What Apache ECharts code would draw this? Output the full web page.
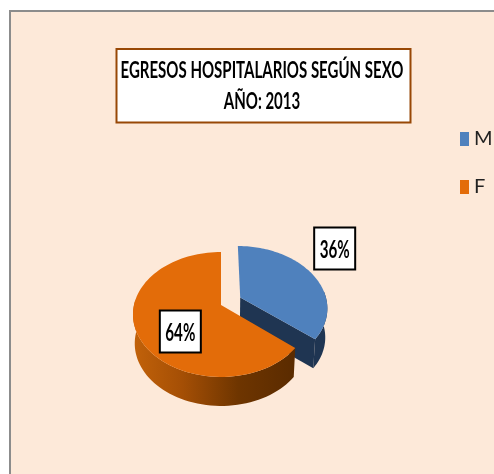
<!DOCTYPE html>
<html><head><meta charset="utf-8">
<style>html,body{margin:0;padding:0;background:#fff}#c{width:494px;height:474px;filter:blur(0.5px)}</style>
<script src="https://cdn.jsdelivr.net/npm/echarts@6/dist/echarts.min.js"></script>
</head><body><div id="c"></div>
<script>
const titleLines = ['EGRESOS HOSPITALARIOS SEGÚN SEXO', 'AÑO: 2013'];
const categories = ['M', 'F'];
const values = [36, 64];
const topColors = ['#4F81BD', '#E36C09'];

const FONT = 'Lato,"Liberation Sans",sans-serif';
const total = values.reduce((a, b) => a + b, 0);
const CX = 221, CY = 305, R = 87, TILT = 61, PERSP = 0.152, DEPTH = 29, BOTTOM_SCALE = 0.98;
const EXPLODE = [0.235, 0];
const SLICE_SHIFT = [[1, -1.5], [0, 0]];
const LABEL_CENTER_RADIUS = [1.22, 0.5], LABEL_SHIFT = [[9, -22], [0, 13]];
const LABEL_BOX = [41, 42];

const measure = document.createElement('canvas').getContext('2d');
function narrow(text, font, width) {
  measure.font = font;
  return width / measure.measureText(text).width;
}
function project(u, v) {
  const s = 1 / (1 - PERSP * v);
  return [CX + R * u * s, CY + TILT * v * s];
}
function lower(p) { return [CX + (p[0] - CX) * BOTTOM_SCALE, p[1] + DEPTH]; }

function sliceGeometry(idx) {
  let before = 0;
  for (let i = 0; i < idx; i++) before += values[i];
  const a0 = before / total * Math.PI * 2;
  const a1 = (before + values[idx]) / total * Math.PI * 2;
  const mid = (a0 + a1) / 2;
  const ou = EXPLODE[idx] * Math.sin(mid), ov = -EXPLODE[idx] * Math.cos(mid);
  const arc = [], front = [];
  const n = 90;
  for (let i = 0; i <= n; i++) {
    const a = a0 + (a1 - a0) * i / n;
    const p = project(ou + Math.sin(a), ov - Math.cos(a));
    arc.push(p);
    if (-Math.cos(a) >= -0.12) front.push(p);
  }
  return { arc, front, apex: project(ou, ov), mid, ou, ov };
}

function renderSlice(params, api) {
  const idx = params.seriesIndex;
  const g = sliceGeometry(idx);
  const children = [];
  const wall = g.front.concat(g.front.map(lower).reverse());
  const fill = idx === 0 ? '#1F3552' : new echarts.graphic.LinearGradient(0, 0, 1, 0, [
    { offset: 0, color: '#C2620A' },
    { offset: 0.3, color: '#A54F05' },
    { offset: 0.65, color: '#6E3500' },
    { offset: 1, color: '#5A2B00' }
  ]);
  children.push({ type: 'polygon', shape: { points: wall }, style: { fill: fill } });
  if (idx === 0) {
    const end = g.arc[g.arc.length - 1];
    children.push({ type: 'polygon',
      shape: { points: [g.apex, end, lower(end), lower(g.apex)] },
      style: { fill: '#1F3552' } });
  }
  children.push({ type: 'polygon', shape: { points: [g.apex].concat(g.arc) },
    style: { fill: topColors[idx] } });
  const lr = LABEL_CENTER_RADIUS[idx];
  const lp = project(g.ou + lr * Math.sin(g.mid), g.ov - lr * Math.cos(g.mid));
  const lx = lp[0] + LABEL_SHIFT[idx][0], ly = lp[1] + LABEL_SHIFT[idx][1];
  const labelText = Math.round(api.value(0) / total * 100) + '%';
  const labelFont = 'bold 24px ' + FONT;
  return { type: 'group', children: [
    { type: 'group', x: SLICE_SHIFT[idx][0], y: SLICE_SHIFT[idx][1], children },
    { type: 'rect', z2: 50,
      shape: { x: lx - LABEL_BOX[0] / 2, y: ly - LABEL_BOX[1] / 2, width: LABEL_BOX[0], height: LABEL_BOX[1] },
      style: { fill: '#fff', stroke: '#000', lineWidth: 2 } },
    { type: 'text', z2: 51, x: lx, y: ly + 2, scaleX: narrow(labelText, labelFont, 30),
      style: { x: 0, y: 0, text: labelText, align: 'center', verticalAlign: 'middle', font: labelFont, fill: '#000' } }
  ] };
}

const titleFont = 'bold 22px ' + FONT;
const titleScale = narrow(titleLines[0], titleFont, 283);

const chart = echarts.init(document.getElementById('c'), null, { renderer: 'canvas' });
chart.setOption({
  animation: false,
  backgroundColor: '#fff',
  graphic: [
    { type: 'rect', z: 0, silent: true,
      shape: { x: 10, y: 11, width: 500, height: 480 },
      style: { fill: '#FDE9D9', stroke: '#8C8C8C', lineWidth: 2 } },
    { type: 'rect', z: 10, silent: true,
      shape: { x: 116.5, y: 49, width: 294, height: 73.5 },
      style: { fill: '#fff', stroke: '#984806', lineWidth: 2 } },
    { type: 'text', z: 11, x: 262, y: 70.5, scaleX: titleScale, silent: true,
      style: { x: 0, y: 0, text: titleLines[0], align: 'center', verticalAlign: 'middle', font: titleFont, fill: '#000' } },
    { type: 'text', z: 11, x: 262, y: 102, scaleX: titleScale, silent: true,
      style: { x: 0, y: 0, text: titleLines[1], align: 'center', verticalAlign: 'middle', font: titleFont, fill: '#000' } }
  ],
  legend: {
    data: categories, orient: 'vertical', left: 460, top: 129,
    icon: 'rect', itemWidth: 9, itemHeight: 14, itemGap: 28, padding: 0,
    textStyle: { fontFamily: 'Lato', fontSize: 20, color: '#222' },
    selectedMode: false
  },
  series: categories.map((name, i) => ({
    type: 'custom', name, coordinateSystem: 'none', z: 2 + i,
    itemStyle: { color: topColors[i] },
    renderItem: renderSlice, data: [[values[i]]]
  }))
});
</script></body></html>
